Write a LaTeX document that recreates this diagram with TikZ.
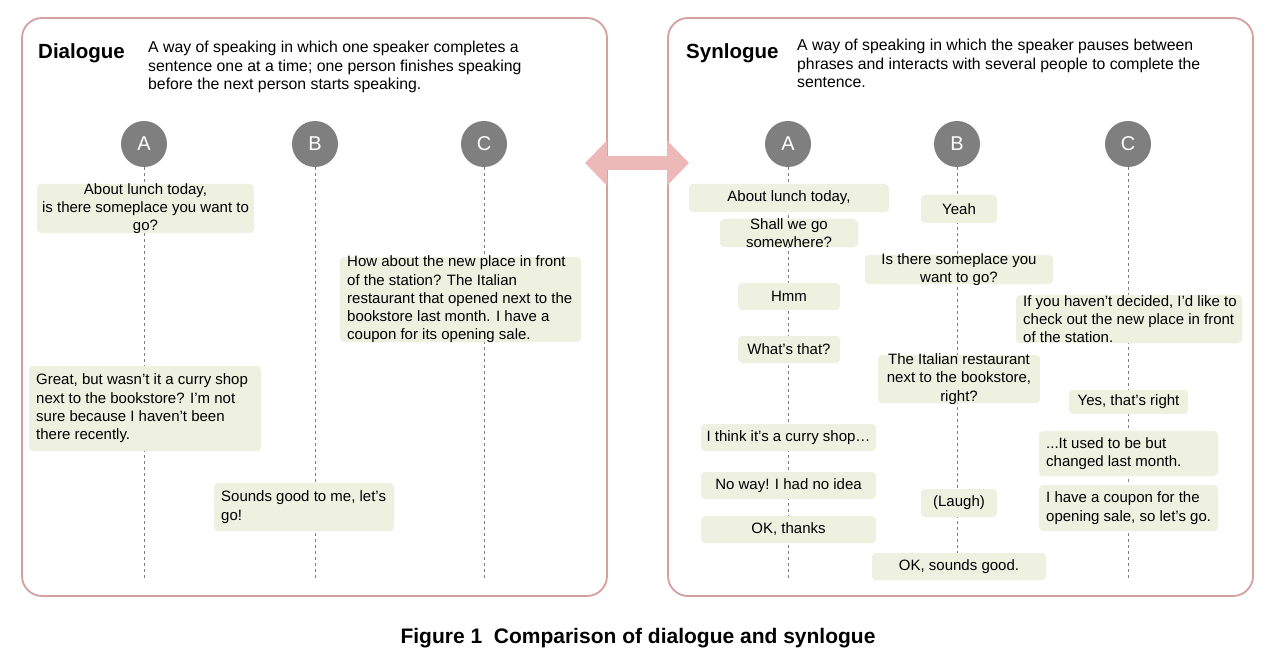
\documentclass[tikz,border=0pt]{standalone}
\usepackage{fontspec}
\setmainfont{Liberation Sans}
\usetikzlibrary{arrows.meta}
\definecolor{panelc}{HTML}{D4A0A0}
\definecolor{boxc}{HTML}{EEF0E0}
\definecolor{circc}{HTML}{7F7F7F}
\definecolor{arrc}{HTML}{EDB8B8}
\begin{document}
\begin{tikzpicture}[x=1pt,y=-1pt,
 panel/.style={draw=panelc,line width=1.8pt,rounded corners=20pt},
 person/.style={circle,fill=circc,text=white,minimum size=46pt,inner sep=0pt,font=\fontsize{20}{20}\selectfont},
 life/.style={draw=gray,dashed,line width=0.5pt},
 msg/.style={fill=boxc,rounded corners=4pt},
 txt/.style={font=\fontsize{15.8}{18.5}\selectfont,inner sep=0pt},
 btxt/.style={font=\fontsize{15}{18.3}\selectfont,inner sep=0pt},
 ttl/.style={font=\bfseries\fontsize{20.5}{20}\selectfont,anchor=west,inner sep=0pt},
]
\useasboundingbox (0,0) rectangle (1277,663);
\fill[white] (0,0) rectangle (1277,663);
\draw[panel] (22,18) rectangle (607,596);
\draw[panel] (668,18) rectangle (1253,596);
\node[ttl] (t1) at (38,53) {Dialogue};
\node[txt,anchor=north west,align=left] (d1) at (148,41) {A way of speaking in which one speaker completes a\\sentence one at a time; one person finishes speaking\\before the next person starts speaking.};
\node[ttl] (t2) at (686,53) {Synlogue};
\node[txt,anchor=north west,align=left] (d2) at (797,39) {A way of speaking in which the speaker pauses between\\phrases and interacts with several people to complete the\\sentence.};
% lifelines
\foreach \n/\x/\l in {la/144/A,lb/315/B,lc/484/C,ra/788/A,rb/957/B,rc/1128/C}{
 \coordinate (\n e) at (\x,580);
 \node[person] (\n) at (\x,144) {\l};
 \draw[life] (\n) -- (\n e);
}
% arrow
\coordinate (arl) at (585,163); \coordinate (arr) at (689,163);
\draw[arrc,line width=14pt,{Triangle[width=44pt,length=22pt]}-{Triangle[width=44pt,length=22pt]}] (arl) -- (arr);
% boxes
\newcommand{\mybx}[5]{\fill[msg] (#2,#3) rectangle (#4,#5); \node[btxt,align=center] (#1) at ({(#2+#4)/2},{(#3+#5)/2})}
\newcommand{\mybl}[5]{\fill[msg] (#2,#3) rectangle (#4,#5); \node[btxt,align=left,anchor=west] (#1) at ({#2+7},{(#3+#5)/2})}
\mybx{l1}{37}{184}{254}{233} {About lunch today,\\is there someplace you want to\\go?};
\mybl{l2}{340}{257}{581}{342} {How about the new place in front\\of the station? The Italian\\restaurant that opened next to the\\bookstore last month. I have a\\coupon for its opening sale.};
\mybl{l3}{29}{366}{261}{451} {Great, but wasn’t it a curry shop\\next to the bookstore? I’m not\\sure because I haven’t been\\there recently.};
\mybl{l4}{214}{483}{394}{531} {Sounds good to me, let’s\\go!};
\mybx{r1}{689}{184}{889}{212} {About lunch today,};
\mybx{r2}{921}{195}{997}{223} {Yeah};
\mybx{r3}{720}{219}{858}{247} {Shall we go\\somewhere?};
\mybx{r4}{865}{255}{1053}{284} {Is there someplace you\\want to go?};
\mybx{r5}{738}{283}{840}{310} {Hmm};
\mybl{r6}{1016}{295}{1242}{343} {If you haven’t decided, I’d like to\\check out the new place in front\\of the station.};
\mybx{r7}{738}{336}{840}{363} {What’s that?};
\mybx{r8}{878}{355}{1040}{403} {The Italian restaurant\\next to the bookstore,\\right?};
\mybx{r9}{1069}{390}{1188}{414} {Yes, that’s right};
\mybx{r10}{701}{424}{876}{451} {I think it’s a curry shop…};
\mybl{r11}{1039}{431}{1218}{476} {...It used to be but\\changed last month.};
\mybx{r12}{701}{472}{876}{499} {No way! I had no idea};
\mybx{r13}{921}{489}{997}{517} {(Laugh)};
\mybl{r14}{1039}{485}{1218}{531} {I have a coupon for the\\opening sale, so let’s go.};
\mybx{r15}{701}{516}{876}{543} {OK, thanks};
\mybx{r16}{872}{553}{1046}{580} {OK, sounds good.};
\node[font=\bfseries\fontsize{21}{20}\selectfont] (cap) at (638,638) {Figure 1\ \ Comparison of dialogue and synlogue};
\end{tikzpicture}
\end{document}
